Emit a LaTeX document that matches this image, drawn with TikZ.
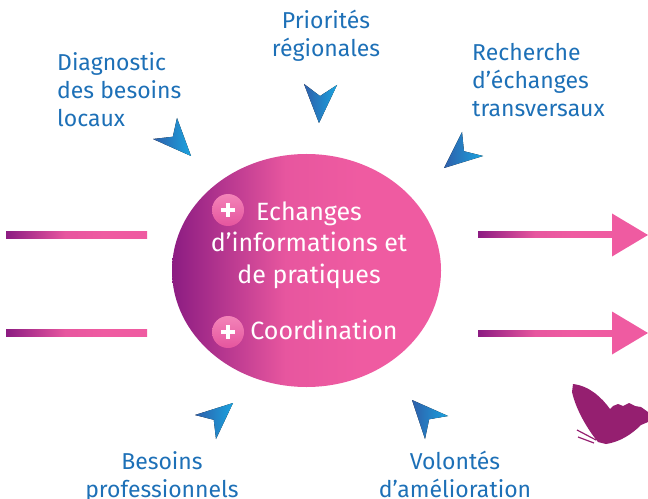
\documentclass[tikz,border=0pt]{standalone}
\usepackage{fontspec}
\setmainfont{Fira Sans}
\usepackage{tikz}
\usetikzlibrary{shapes,calc,positioning}

\definecolor{hubpurple}{HTML}{8C1C82}
\definecolor{hubpink}{HTML}{EF5BA1}
\definecolor{labelblue}{HTML}{1D70B7}
\definecolor{tipdark}{HTML}{2E5FAA}
\definecolor{tiplight}{HTML}{1BA3DF}
\definecolor{flypurple}{HTML}{951F70}

\pgfdeclarehorizontalshading{hubfade}{100bp}{
  color(0bp)=(hubpurple); color(25bp)=(hubpurple);
  color(46bp)=(hubpink!92!hubpurple); color(60bp)=(hubpink); color(100bp)=(hubpink)}

\begin{document}
\begin{tikzpicture}[
    x=1bp, y=-1bp,
    label text/.style={
        text=labelblue, inner sep=0pt,
        font=\fontsize{23bp}{28bp}\selectfont
    },
    hub text/.style={
        text=white, inner sep=0pt, align=center,
        font=\fontsize{25bp}{31bp}\selectfont
    },
    hub/.style={
        ellipse, inner sep=0pt,
        minimum width=269bp, minimum height=233bp,
        shading=hubfade
    },
    bullet/.style={
        circle, inner sep=0pt, minimum size=32bp,
        top color=hubpink!75!white, bottom color=hubpink!90!hubpurple
    },
    bar/.style={shading=hubfade},
    pointer/.style={left color=tipdark, right color=tiplight}
]
\useasboundingbox (0,0) rectangle (648,499);

% centre
\node[hub] (center) at (306.5,270.5) {};
\node[hub text, anchor=base] (exch) at (309,283)
    {Echanges\\d’informations et\\de pratiques};
\node[hub text, anchor=base] (coord) at (324,339) {Coordination};
\foreach \name/\y in {plusA/210, plusB/332}{
  \node[bullet] (\name) at (228,\y) {};
  \fill[white] ($(\name)+(-7,-2)$) rectangle ($(\name)+(7,2)$);
  \fill[white] ($(\name)+(-2,-7)$) rectangle ($(\name)+(2,7)$);
}

% labels
\node[label text, align=left, anchor=base west] (diag) at (57,127)
    {Diagnostic\\des besoins\\locaux};
\node[label text, align=center, anchor=base] (prio) at (326,57)
    {Priorités\\régionales};
\node[label text, align=left, anchor=base west] (rech) at (472,117)
    {Recherche\\d’échanges\\transversaux};
\node[label text, align=center, anchor=base] (beso) at (162,497)
    {Besoins\\professionnels};
\node[label text, align=center, anchor=base] (volo) at (455,497)
    {Volontés\\d’amélioration};

% pointers towards the centre
\foreach \tx/\ty/\ax/\ay/\bx/\by in {
    191/156/177/118/153/139,
    319/123/304/84/337/85,
    444/168/462/132/483/156,
    233/403/195/415/216/439,
    412/400/448/416/425/439}{
  \coordinate (tip) at (\tx,\ty);
  \coordinate (wingA) at (\ax,\ay);
  \coordinate (wingB) at (\bx,\by);
  \fill[pointer] (tip) -- (wingA) -- ($(wingA)!0.5!(wingB)!0.3!(tip)$)
      -- (wingB) -- cycle;
}

% bars in and out
\coordinate (inA) at (6,235);
\coordinate (inB) at (6,333);
\coordinate (outA) at (478,235);
\coordinate (outB) at (478,333);
\foreach \c in {inA, inB}{
  \fill[bar] ($(\c)+(0,-3.5)$) rectangle ($(\c)+(141,3.5)$);
}
\foreach \c in {outA, outB}{
  \fill[bar] ($(\c)+(0,-3)$) rectangle ($(\c)+(136,3)$);
  \fill[hubpink] ($(\c)+(134,-21.5)$) -- ($(\c)+(170,0)$)
      -- ($(\c)+(134,21.5)$) -- cycle;
}

% butterfly
\fill[flypurple] (573,384) .. controls (590,386) and (602,398) .. (610,409)
  -- (613,406) -- (618,404) -- (623,406) -- (629,403) -- (635,406)
  -- (641,407) -- (648,412) -- (648,422) -- (641,425)
  .. controls (632,434) and (620,442) .. (606,444)
  -- (598,442) .. controls (588,430) and (576,410) .. (572,392) -- cycle;
\draw[flypurple, line width=1.2bp] (596,440) -- (577,430)
  (594,443) -- (578,437);
\end{tikzpicture}
\end{document}
